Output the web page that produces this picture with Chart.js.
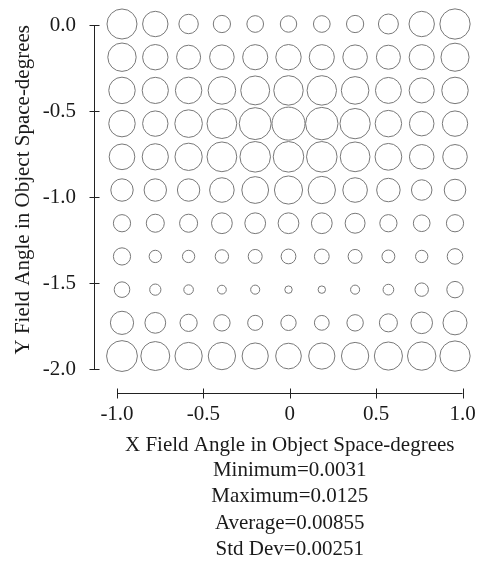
<!DOCTYPE html>
<html>
<head>
<meta charset="utf-8">
<script src="https://cdn.jsdelivr.net/npm/chart.js@4/dist/chart.umd.min.js"></script>
<style>
  html, body { margin: 0; padding: 0; background: #fff; }
  #wrap { width: 478px; height: 568px; }
</style>
</head>
<body>
<div id="wrap"><canvas id="myChart" width="478" height="568"></canvas></div>
<script>
// field points (degrees)
const xField = [-1.0, -0.8, -0.6, -0.4, -0.2, 0.0, 0.2, 0.4, 0.6, 0.8, 1.0];
const yField = [0.0, -0.2, -0.4, -0.6, -0.8, -1.0, -1.2, -1.4, -1.6, -1.8, -2.0];

// spot size per field point, one row per y field
const spotRows = [
    [0.0114, 0.0097, 0.0075, 0.0067, 0.0065, 0.0064, 0.0065, 0.0067, 0.0077, 0.0097, 0.0115],
    [0.0108, 0.0097, 0.0092, 0.0094, 0.0096, 0.0097, 0.0096, 0.0094, 0.0092, 0.0096, 0.0107],
    [0.0101, 0.0100, 0.0101, 0.0105, 0.0110, 0.0112, 0.0112, 0.0105, 0.0099, 0.0096, 0.0101],
    [0.0101, 0.0097, 0.0105, 0.0113, 0.0121, 0.0125, 0.0123, 0.0115, 0.0101, 0.0094, 0.0097],
    [0.0098, 0.0100, 0.0104, 0.0113, 0.0116, 0.0116, 0.0116, 0.0113, 0.0102, 0.0094, 0.0094],
    [0.0086, 0.0086, 0.0086, 0.0094, 0.0102, 0.0107, 0.0104, 0.0094, 0.0090, 0.0079, 0.0083],
    [0.0067, 0.0070, 0.0070, 0.0080, 0.0080, 0.0080, 0.0080, 0.0077, 0.0067, 0.0065, 0.0067],
    [0.0067, 0.0049, 0.0049, 0.0053, 0.0055, 0.0058, 0.0058, 0.0055, 0.0051, 0.0049, 0.0061],
    [0.0061, 0.0045, 0.0039, 0.0036, 0.0037, 0.0031, 0.0031, 0.0037, 0.0043, 0.0053, 0.0064],
    [0.0089, 0.0080, 0.0067, 0.0064, 0.0059, 0.0060, 0.0058, 0.0064, 0.0070, 0.0083, 0.0092],
    [0.0117, 0.0110, 0.0104, 0.0104, 0.0100, 0.0098, 0.0100, 0.0104, 0.0107, 0.0108, 0.0115]
];

const xTicks = [-1.0, -0.5, 0.0, 0.5, 1.0];
const xTickLabels = ['-1.0', '-0.5', '0', '0.5', '1.0'];
const yTicks = [0.0, -0.5, -1.0, -1.5, -2.0];
const yTickLabels = ['0.0', '-0.5', '-1.0', '-1.5', '-2.0'];

const statLines = ['Minimum=0.0031', 'Maximum=0.0125', 'Average=0.00855', 'Std Dev=0.00251'];

// pixels of radius per unit of spot size
const RADIUS_SCALE = 1360;

const FONT = { family: '"Liberation Serif", "Times New Roman", serif', size: 21, lineHeight: 1.2 };
const INK = '#1a1a1a';

const points = [];
yField.forEach((y, i) => {
    xField.forEach((x, j) => {
        points.push({ x: x, y: y, r: spotRows[i][j] * RADIUS_SCALE - 0.5 });
    });
});

// axis lines drawn a little away from the plot, with crossing tick marks
const detachedAxes = {
    id: 'detachedAxes',
    afterDraw(chart) {
        const { ctx, chartArea, scales } = chart;
        const ax = Math.round(chartArea.left - 23) + 0.5;
        const ay = Math.round(chartArea.bottom + 24) + 0.5;
        ctx.save();
        ctx.strokeStyle = '#222';
        ctx.lineWidth = 1;
        ctx.beginPath();
        ctx.moveTo(ax, scales.y.getPixelForValue(yTicks[0]));
        ctx.lineTo(ax, scales.y.getPixelForValue(yTicks[yTicks.length - 1]));
        yTicks.forEach(v => {
            const py = Math.round(scales.y.getPixelForValue(v)) + 0.5;
            ctx.moveTo(ax - 5, py);
            ctx.lineTo(ax + 5, py);
        });
        ctx.moveTo(scales.x.getPixelForValue(xTicks[0]), ay);
        ctx.lineTo(scales.x.getPixelForValue(xTicks[xTicks.length - 1]), ay);
        xTicks.forEach(v => {
            const px = Math.round(scales.x.getPixelForValue(v)) + 0.5;
            ctx.moveTo(px, ay - 5);
            ctx.lineTo(px, ay + 5);
        });
        ctx.stroke();
        ctx.restore();
    }
};

Chart.defaults.color = INK;
Chart.defaults.font.family = FONT.family;

const chart = document.getElementById('myChart');

new Chart(chart, {
    type: 'bubble',
    data: {
        datasets: [{
            data: points,
            xAxisID: 'bx',
            yAxisID: 'by',
            backgroundColor: 'rgba(0,0,0,0)',
            borderColor: 'rgb(120,120,120)',
            borderWidth: 1,
            clip: false
        }]
    },
    options: {
        responsive: false,
        devicePixelRatio: 1,
        animation: false,
        events: [],
        layout: { autoPadding: false, padding: { top: 25, right: 15.5, bottom: 5.4, left: 0 } },
        plugins: {
            legend: { display: false },
            tooltip: { enabled: false },
            title: {
                display: true,
                position: 'bottom',
                fullSize: false,
                text: statLines,
                color: INK,
                font: { family: FONT.family, size: 21, weight: 'normal', lineHeight: 1.25 },
                padding: 0
            }
        },
        scales: {
            bx: { type: 'linear', display: false, min: -1.03, max: 1.045 },
            by: { type: 'linear', display: false, min: -2.078, max: -0.006 },
            x: {
                type: 'linear',
                position: 'bottom',
                min: -1, max: 1,
                afterBuildTicks: s => { s.ticks = xTicks.map(v => ({ value: v })); },
                afterFit: s => { s.height = 88.6; s.paddingLeft = 0; s.paddingRight = 0; },
                grid: { display: false, drawTicks: false },
                border: { display: false },
                ticks: {
                    padding: 33,
                    font: FONT,
                    color: INK,
                    maxRotation: 0,
                    callback: (v) => xTickLabels[xTicks.indexOf(v)]
                },
                title: {
                    display: true,
                    text: 'X Field Angle in Object Space-degrees',
                    font: FONT,
                    color: INK,
                    padding: 0
                }
            },
            y: {
                type: 'linear',
                position: 'left',
                min: -2, max: 0,
                afterBuildTicks: s => { s.ticks = yTicks.map(v => ({ value: v })); },
                afterFit: s => { s.width = 117; s.paddingTop = 0; s.paddingBottom = 0; },
                grid: { display: false, drawTicks: false },
                border: { display: false },
                ticks: {
                    padding: 41,
                    font: FONT,
                    color: INK,
                    callback: (v) => yTickLabels[yTicks.indexOf(v)]
                },
                title: {
                    display: true,
                    text: 'Y Field Angle in Object Space-degrees',
                    align: 'end',
                    font: FONT,
                    color: INK,
                    padding: { top: 10.5, bottom: 0 }
                }
            }
        }
    },
    plugins: [detachedAxes]
});
</script>
</body>
</html>
